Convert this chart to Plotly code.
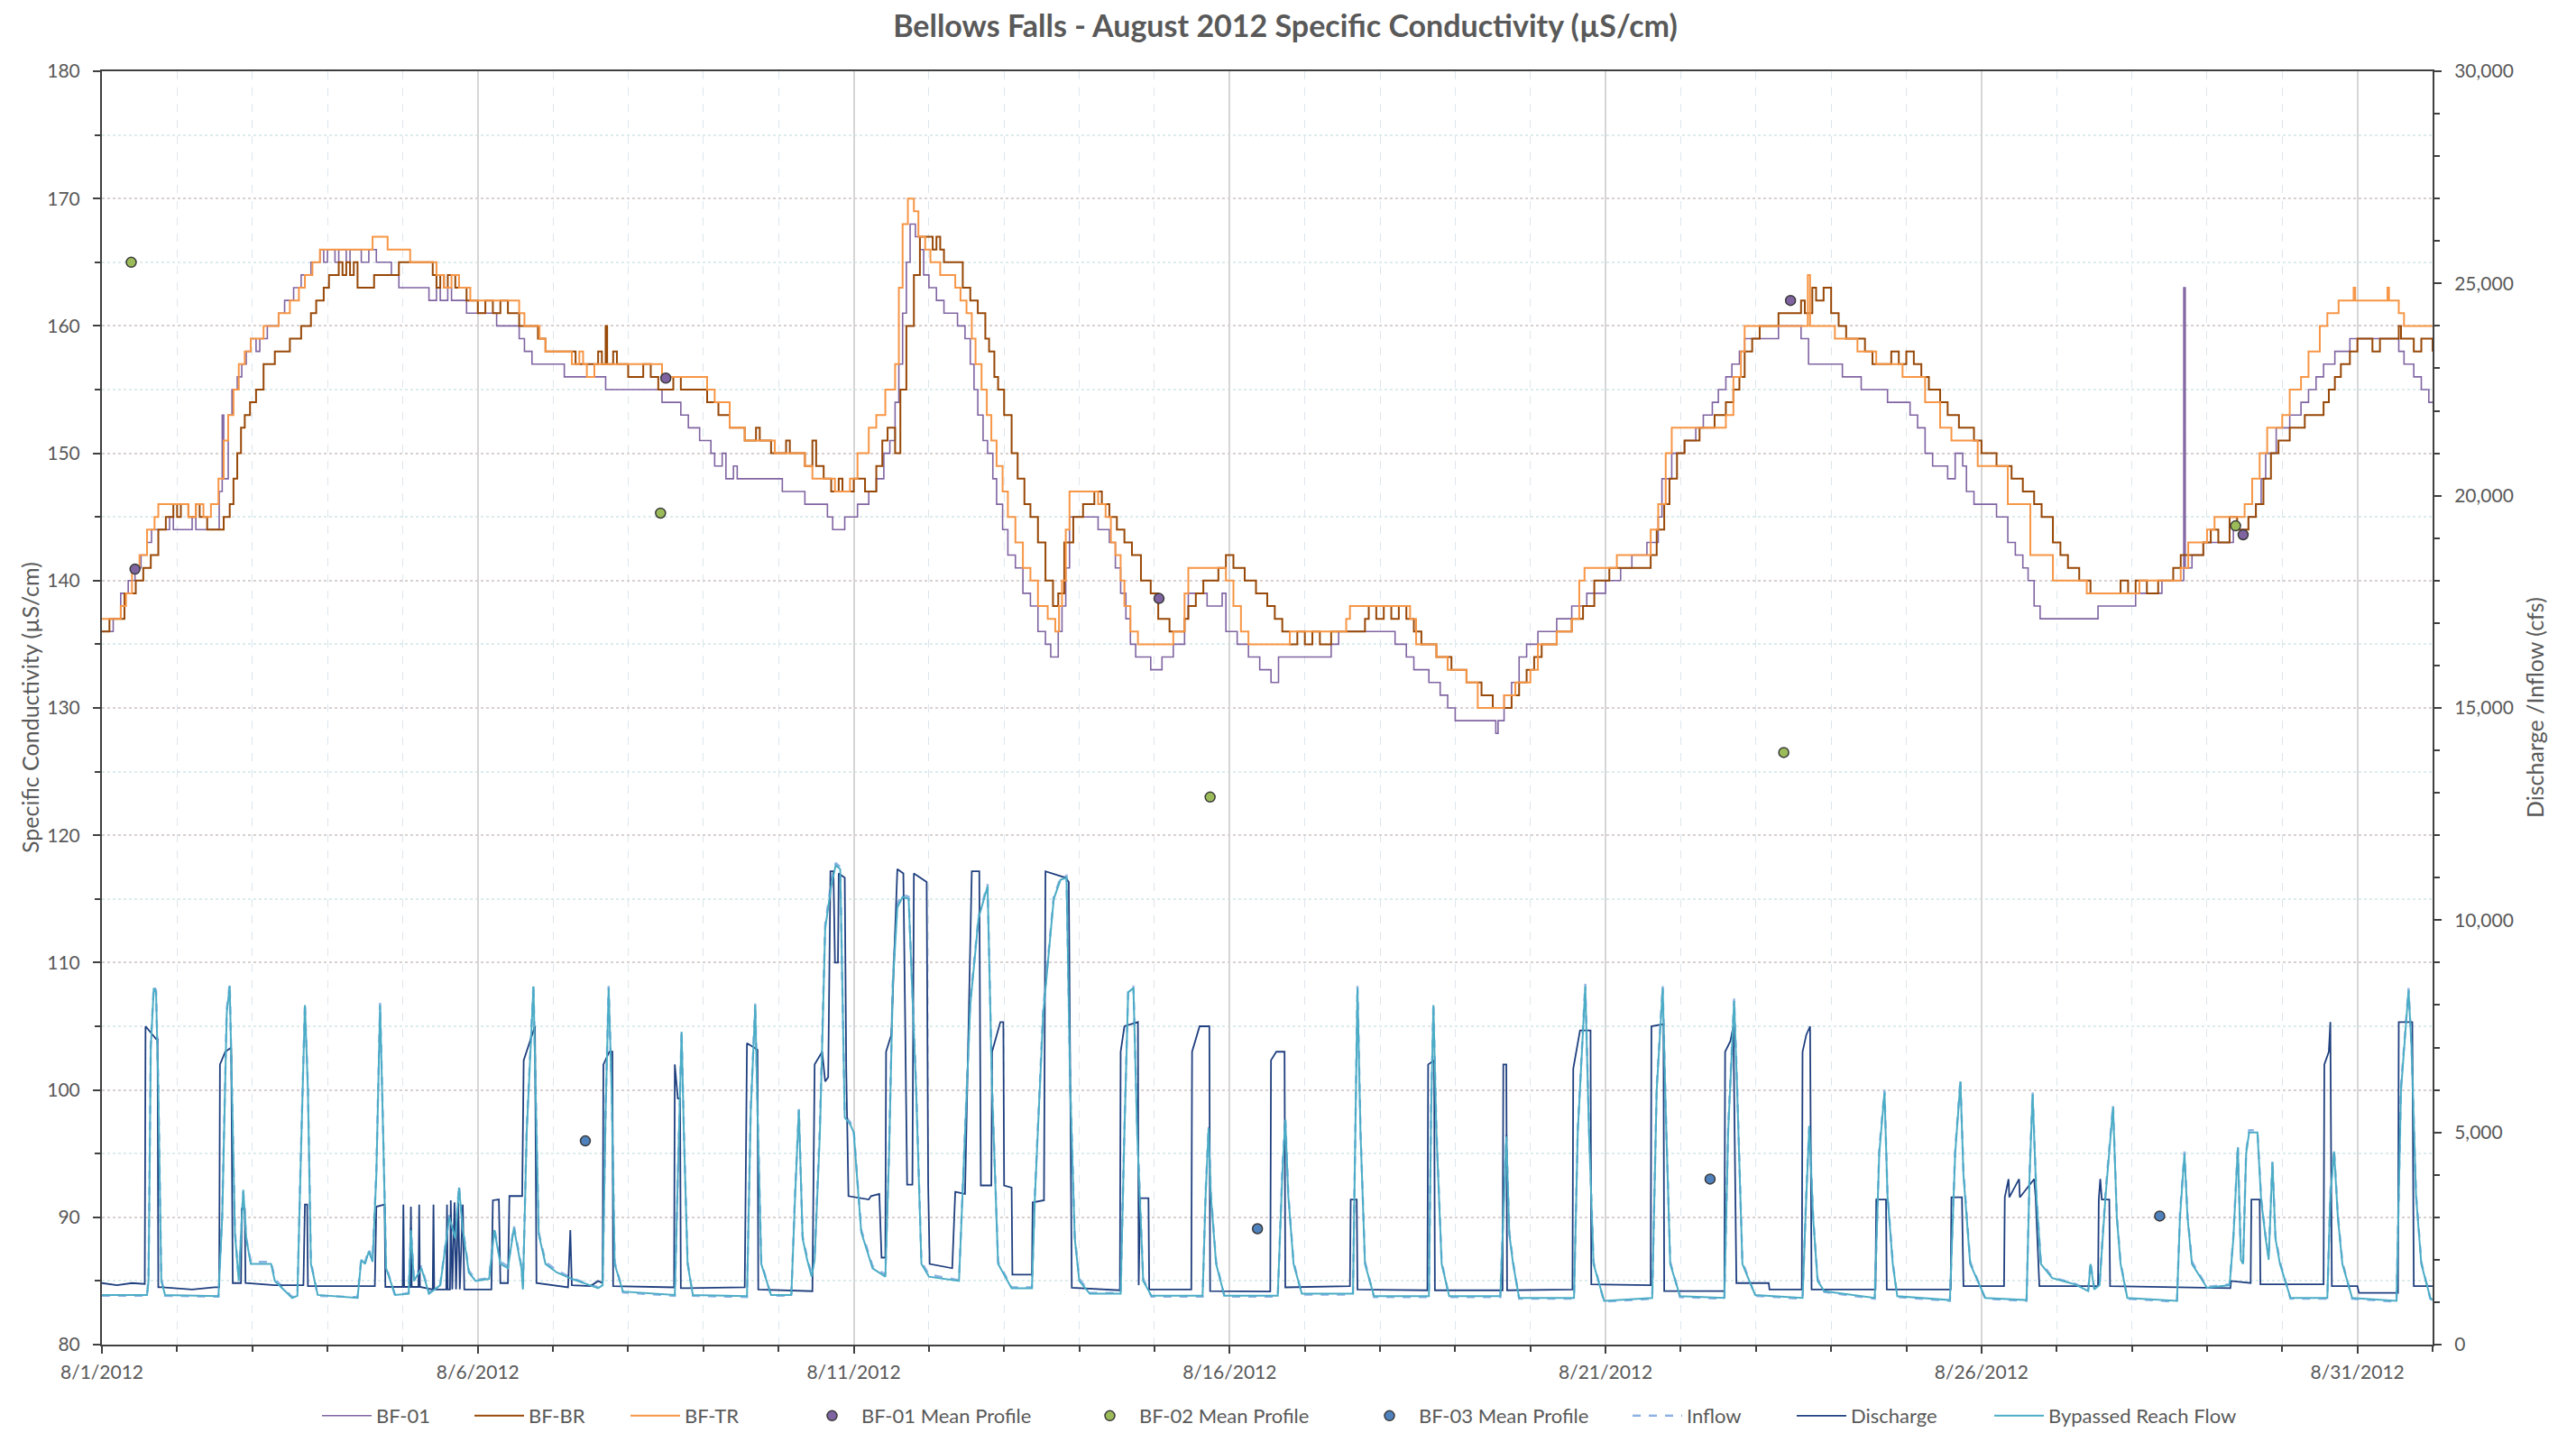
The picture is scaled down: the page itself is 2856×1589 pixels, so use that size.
import pandas as pd
import plotly.graph_objects as go

BASE = pd.Timestamp("2012-08-01")

# ---------------- Specific conductivity (uS/cm), day offsets from 8/1/2012 00:00 -------------
bf01_day = [0.00, 0.15, 0.25, 0.35, 0.44, 0.52, 0.60, 0.66, 0.90, 0.95, 1.20, 1.25, 1.56, 1.60, 1.62,
            1.68, 1.73, 1.80, 1.86, 1.92, 1.98, 2.05, 2.10, 2.20, 2.35, 2.43, 2.55, 2.65, 2.78, 2.90,
            2.95, 3.00, 3.10, 3.15, 3.25, 3.30, 3.45, 3.55, 3.65, 3.85, 3.95, 4.35, 4.45, 4.50, 4.60,
            4.65, 4.85, 5.25, 5.55, 5.62, 5.72, 6.15, 6.70, 7.45, 7.55, 7.70, 7.80, 7.95, 8.10, 8.15,
            8.25, 8.30, 8.40, 8.45, 8.60, 9.05, 9.35, 9.65, 9.72, 9.88, 10.05, 10.20, 10.30, 10.40,
            10.48, 10.55, 10.60, 10.65, 10.70, 10.75, 10.82, 10.88, 10.93, 11.00, 11.10, 11.20, 11.38,
            11.48, 11.55, 11.60, 11.65, 11.72, 11.78, 11.85, 11.90, 11.98, 12.05, 12.15, 12.25, 12.35,
            12.45, 12.55, 12.62, 12.72, 12.77, 12.82, 12.87, 13.25, 13.40, 13.48, 13.55, 13.62, 13.68,
            13.75, 13.95, 14.10, 14.25, 14.40, 14.45, 14.70, 14.90, 14.95, 15.10, 15.25, 15.40, 15.55,
            15.65, 16.35, 16.45, 17.20, 17.35, 17.45, 17.65, 17.80, 17.90, 18.00, 18.54, 18.57, 18.65,
            18.75, 18.85, 18.95, 19.10, 19.35, 19.55, 19.75, 20.00, 20.20, 20.35, 20.55, 20.70, 20.75,
            20.88, 21.05, 21.20, 21.30, 21.42, 21.50, 21.60, 21.68, 21.78, 21.85, 22.30, 22.60, 22.70,
            23.15, 23.40, 23.75, 24.05, 24.15, 24.25, 24.35, 24.55, 24.65, 24.75, 24.80, 24.90, 25.20,
            25.35, 25.45, 25.55, 25.62, 25.70, 25.78, 26.55, 27.05, 27.40, 27.69, 27.71, 27.80, 27.95,
            28.35, 28.55, 28.65, 28.72, 28.78, 28.92, 29.10, 29.25, 29.35, 29.45, 29.55, 29.70, 29.90,
            30.55, 30.62, 30.75, 30.85, 30.95, 31.00]
bf01_val = [136, 137, 139, 140, 141, 142, 143, 144, 145, 144, 145, 144, 147, 153, 148,
            153, 155, 156, 157, 158, 159, 158, 159, 160, 161, 162, 163, 164, 165, 166,
            165, 166, 165, 166, 165, 166, 165, 166, 165, 164, 163, 162, 163, 162, 163,
            162, 161, 160, 159, 158, 157, 156, 155, 154, 154, 153, 152, 151, 150, 149,
            150, 148, 149, 148, 148, 147, 146, 145, 144, 145, 146, 147, 148, 150,
            151, 154, 157, 161, 165, 168, 167, 166, 164, 163, 162, 161, 160,
            159, 157, 155, 153, 151, 150, 148, 146, 144, 142, 141, 139, 138,
            136, 135, 134, 136, 138, 141, 145, 144, 143, 141, 139, 137, 135,
            134, 133, 134, 135, 137, 139, 138, 139, 136, 135, 134, 133, 132,
            134, 135, 136, 135, 134, 133, 132, 131, 130, 129, 128, 129, 131,
            132, 134, 135, 136, 137, 138, 139, 140, 141, 142, 143, 145, 148,
            150, 151, 152, 153, 154, 155, 156, 157, 158, 159, 160, 159, 157,
            156, 155, 154, 153, 152, 150, 149, 148, 150, 149, 147, 146, 145,
            143, 142, 141, 140, 138, 137, 138, 139, 140, 163, 141, 142, 143,
            144, 145, 146, 148, 150, 152, 153, 154, 155, 156, 157, 158, 159,
            158, 157, 156, 155, 154, 154]

bfbr_day = [0.00, 0.10, 0.30, 0.45, 0.55, 0.65, 0.75, 0.85, 0.95, 1.00, 1.05, 1.15, 1.25, 1.30, 1.40,
            1.62, 1.70, 1.75, 1.80, 1.85, 1.90, 1.97, 2.05, 2.15, 2.30, 2.50, 2.65, 2.78, 2.85, 2.95,
            3.02, 3.15, 3.20, 3.25, 3.30, 3.35, 3.40, 3.62, 3.95, 4.40, 4.45, 4.50, 4.55, 4.60, 4.70,
            4.85, 5.00, 5.10, 5.20, 5.30, 5.40, 5.55, 5.80, 5.90, 6.30, 6.60, 6.65, 6.70, 6.72, 6.80,
            6.85, 7.00, 7.20, 7.30, 7.40, 7.60, 7.70, 8.05, 8.20, 8.35, 8.55, 8.70, 8.75, 8.90, 9.10,
            9.15, 9.35, 9.45, 9.50, 9.60, 9.70, 9.80, 9.85, 10.00, 10.15, 10.30, 10.38, 10.45, 10.55,
            10.62, 10.70, 10.80, 10.88, 11.05, 11.10, 11.15, 11.20, 11.45, 11.55, 11.65, 11.75, 11.80,
            11.87, 11.92, 12.00, 12.10, 12.18, 12.27, 12.35, 12.45, 12.55, 12.65, 12.72, 12.80, 12.92,
            13.05, 13.20, 13.30, 13.40, 13.50, 13.60, 13.70, 13.82, 13.95, 14.05, 14.20, 14.40, 14.45,
            14.55, 14.65, 14.85, 14.95, 15.05, 15.20, 15.35, 15.50, 15.60, 15.70, 15.80, 15.90, 16.00,
            16.10, 16.20, 16.35, 16.80, 16.85, 16.95, 17.05, 17.15, 17.25, 17.35, 17.45, 17.55, 17.75,
            17.95, 18.15, 18.35, 18.50, 18.75, 18.85, 18.95, 19.05, 19.15, 19.35, 19.55, 19.70, 19.85,
            20.05, 20.60, 20.68, 20.78, 20.85, 20.95, 21.05, 21.25, 21.45, 21.60, 21.70, 21.78, 21.85,
            21.95, 22.05, 22.30, 22.60, 22.65, 22.75, 22.80, 22.90, 23.00, 23.10, 23.20, 23.45, 23.55,
            23.80, 23.90, 24.00, 24.10, 24.20, 24.30, 24.45, 24.55, 24.70, 24.90, 25.00, 25.20, 25.40,
            25.55, 25.70, 25.80, 25.95, 26.05, 26.15, 26.30, 26.45, 26.85, 26.95, 27.05, 27.20, 27.35,
            27.55, 27.65, 27.95, 28.05, 28.15, 28.30, 28.40, 28.55, 28.65, 28.75, 28.85, 28.95, 29.10,
            29.30, 29.55, 29.62, 29.70, 29.78, 29.90, 30.00, 30.20, 30.30, 30.55, 30.58, 30.75, 30.85,
            31.00]
bfbr_val = [136, 137, 139, 140, 141, 142, 144, 145, 146, 145, 146, 145, 146, 145, 144,
            145, 146, 148, 150, 152, 153, 154, 155, 157, 158, 159, 160, 161, 162, 163,
            164, 165, 164, 165, 164, 165, 163, 164, 165, 164, 163, 164, 163, 164, 163,
            162, 161, 162, 161, 162, 161, 160, 159, 158, 157, 158, 157, 160, 157, 158,
            157, 156, 157, 156, 155, 156, 155, 154, 153, 152, 151, 152, 151, 150, 151,
            150, 149, 151, 149, 148, 147, 148, 147, 148, 147, 149, 151, 152, 150,
            155, 160, 164, 167, 166, 167, 166, 165, 163, 162, 161, 159, 158,
            156, 155, 153, 150, 148, 146, 145, 143, 140, 138, 139, 143, 145,
            146, 147, 146, 145, 144, 143, 142, 140, 139, 137, 136, 137, 138,
            139, 140, 141, 142, 141, 140, 139, 138, 137, 136, 135, 136, 135,
            136, 135, 136, 137, 138, 137, 138, 137, 138, 137, 136, 135, 134,
            133, 132, 131, 130, 131, 132, 133, 134, 135, 136, 137, 138, 140,
            141, 142, 144, 146, 148, 150, 151, 152, 153, 154, 155, 156, 158,
            159, 160, 161, 162, 161, 163, 162, 163, 161, 160, 159, 158, 157,
            158, 157, 158, 157, 156, 155, 154, 153, 152, 151, 150, 149, 148,
            147, 146, 145, 143, 142, 141, 140, 139, 140, 139, 140, 139, 140,
            141, 142, 143, 144, 143, 145, 144, 145, 146, 148, 150, 151, 152,
            153, 154, 155, 156, 157, 158, 159, 158, 159, 160, 159, 158, 159,
            158]

bftr_day = [0.00, 0.25, 0.32, 0.40, 0.50, 0.60, 0.70, 0.75, 1.15, 1.25, 1.35, 1.45, 1.55, 1.62, 1.68,
            1.75, 1.82, 1.90, 1.98, 2.15, 2.35, 2.50, 2.62, 2.70, 2.80, 2.90, 3.60, 3.80, 4.10, 4.45,
            4.55, 4.65, 4.75, 4.90, 5.55, 5.62, 5.82, 5.90, 6.25, 6.35, 6.40, 6.45, 6.55, 7.45, 8.05,
            8.15, 8.35, 8.55, 8.95, 9.35, 9.45, 9.75, 9.95, 10.05, 10.20, 10.30, 10.42, 10.55, 10.60,
            10.65, 10.72, 10.80, 10.86, 10.95, 11.02, 11.15, 11.35, 11.42, 11.50, 11.57, 11.62, 11.70,
            11.77, 11.83, 11.90, 11.98, 12.05, 12.15, 12.25, 12.35, 12.45, 12.58, 12.68, 12.73, 12.77,
            12.82, 12.87, 13.25, 13.35, 13.42, 13.48, 13.55, 13.60, 13.68, 13.78, 14.25, 14.40, 14.45,
            14.95, 15.05, 15.15, 15.25, 15.80, 16.55, 16.60, 17.40, 17.48, 17.75, 17.90, 18.15, 18.30,
            18.65, 18.80, 19.00, 19.10, 19.35, 19.55, 19.65, 19.72, 20.15, 20.60, 20.70, 20.80, 20.88,
            21.60, 21.70, 21.80, 21.85, 22.69, 22.72, 23.05, 23.35, 23.60, 23.95, 24.25, 24.45, 24.60,
            24.95, 25.35, 25.65, 25.95, 26.40, 27.10, 27.65, 27.75, 28.00, 28.10, 28.50, 28.60, 28.70,
            28.80, 29.00, 29.10, 29.25, 29.35, 29.50, 29.60, 29.75, 29.95, 29.97, 30.40, 30.42, 30.55,
            30.62, 31.00]
bftr_val = [137, 138, 139, 141, 142, 144, 145, 146, 145, 146, 145, 146, 148, 151, 153,
            155, 157, 158, 159, 160, 161, 162, 163, 164, 165, 166, 167, 166, 165, 164,
            163, 164, 163, 162, 161, 160, 159, 158, 157, 158, 157, 156, 157, 156, 155,
            154, 152, 151, 150, 149, 148, 147, 148, 150, 152, 153, 155, 157, 163,
            168, 170, 169, 167, 166, 165, 164, 163, 162, 161, 159, 157, 155,
            153, 151, 149, 147, 145, 143, 141, 140, 138, 137, 136, 138, 140,
            144, 147, 146, 145, 143, 142, 140, 138, 136, 135, 136, 139, 141,
            140, 138, 136, 135, 136, 137, 138, 137, 135, 134, 133, 132, 130,
            131, 132, 133, 135, 136, 137, 140, 141, 142, 144, 146, 150, 152,
            153, 156, 158, 160, 164, 160, 159, 158, 157, 156, 154, 152, 151,
            149, 146, 142, 140, 139, 140, 141, 143, 144, 145, 146, 148, 150,
            152, 153, 155, 156, 158, 160, 161, 162, 163, 162, 163, 162, 161,
            160, 160]

# ---------------- Mean profile points (uS/cm) ----------------
bf01_mean_day = [0.44, 7.50, 14.06, 22.46, 28.48]
bf01_mean_val = [140.9, 155.9, 138.6, 162.0, 143.6]
bf02_mean_day = [0.39, 7.43, 14.74, 22.37, 28.38]
bf02_mean_val = [165.0, 145.3, 123.0, 126.5, 144.3]
bf03_mean_day = [6.43, 15.37, 21.39, 27.37]
bf03_mean_val = [96.0, 89.1, 93.0, 90.1]

# ---------------- Flows (cfs) ----------------
dis_day = [0.00, 0.20, 0.40, 0.57, 0.58, 0.65, 0.72, 0.74, 0.75, 0.80, 1.20, 1.50, 1.56, 1.57, 1.64,
           1.72, 1.74, 1.85, 1.86, 1.90, 1.91, 2.30, 2.68, 2.70, 2.73, 2.74, 3.63, 3.65, 3.76, 3.77,
           4.00, 4.01, 4.02, 4.10, 4.11, 4.12, 4.21, 4.22, 4.23, 4.40, 4.41, 4.42, 4.58, 4.59, 4.60,
           4.63, 4.64, 4.66, 4.69, 4.71, 4.74, 4.76, 4.80, 4.82, 5.18, 5.20, 5.28, 5.30, 5.40, 5.42,
           5.59, 5.61, 5.72, 5.76, 5.78, 6.20, 6.23, 6.25, 6.50, 6.60, 6.66, 6.67, 6.75, 6.79, 6.80,
           7.61, 7.62, 7.66, 7.69, 7.70, 8.55, 8.58, 8.72, 8.73, 9.45, 9.48, 9.58, 9.62, 9.66, 9.69,
           9.73, 9.75, 9.79, 9.80, 9.88, 9.90, 9.93, 10.20, 10.23, 10.34, 10.37, 10.42, 10.43, 10.50,
           10.58, 10.66, 10.71, 10.78, 10.80, 10.97, 10.99, 11.01, 11.31, 11.35, 11.48, 11.53, 11.57,
           11.67, 11.69, 11.83, 11.84, 11.95, 11.99, 12.00, 12.10, 12.11, 12.37, 12.38, 12.53, 12.55,
           12.82, 12.86, 12.90, 13.54, 13.55, 13.60, 13.78, 13.79, 13.81, 13.92, 13.93, 14.49, 14.50,
           14.60, 14.73, 14.74, 15.54, 15.55, 15.62, 15.73, 15.74, 16.60, 16.61, 16.69, 16.70, 17.63,
           17.64, 17.72, 17.73, 18.63, 18.64, 18.68, 18.69, 19.56, 19.57, 19.66, 19.80, 19.81, 20.60,
           20.61, 20.77, 20.78, 21.58, 21.59, 21.66, 21.70, 21.74, 22.17, 22.18, 22.61, 22.62, 22.67,
           22.72, 22.74, 23.59, 23.60, 23.73, 23.74, 24.59, 24.60, 24.74, 24.76, 25.30, 25.31, 25.36,
           25.37, 25.50, 25.51, 25.70, 25.72, 25.77, 26.55, 26.56, 26.58, 26.60, 26.70, 26.71, 28.31,
           28.32, 28.58, 28.59, 28.70, 28.71, 29.55, 29.56, 29.62, 29.64, 29.66, 30.00, 30.02, 30.54,
           30.55, 30.73, 30.75, 31.00]
dis_cfs = [1450, 1400, 1450, 1430, 7500, 7350, 7200, 7200, 1350, 1350, 1300, 1350, 1350, 6600, 6900,
           7000, 1450, 1450, 3200, 3200, 1450, 1400, 1400, 3300, 3300, 1380, 1380, 3250, 3300, 1360,
           1360, 3300, 1360, 1360, 3250, 1360, 1360, 3300, 1360, 1300, 3300, 1300, 1300, 3300, 1300,
           1300, 3400, 1300, 3350, 1300, 3350, 1300, 3300, 1300, 1300, 3400, 3420, 1450, 1450, 3500,
           3500, 6700, 7300, 7500, 1450, 1350, 2700, 1400, 1380, 1500, 1450, 6600, 6900, 6900, 1380,
           1350, 6600, 5800, 5800, 1330, 1350, 7100, 6950, 1300, 1260, 6600, 6900, 6200, 6300, 11150,
           11150, 9000, 9000, 11100, 11000, 6500, 3500, 3420, 3500, 3550, 2050, 2050, 6900, 7300,
           11200, 11100, 3770, 3770, 11100, 10900, 3770, 1900, 1800, 3600, 3550, 7500, 11150,
           11150, 3750, 3750, 6900, 7600, 7600, 3750, 3700, 1650, 1650, 3350, 3400, 11150,
           11000, 10900, 1340, 1280, 6900, 7500, 7600, 1400, 3450, 3450, 1300, 1300, 6900,
           7500, 7500, 1260, 1250, 6700, 6900, 6900, 1350, 1380, 3420, 3420, 1300, 1280,
           6600, 6700, 1280, 1280, 6600, 6600, 1280, 1300, 6500, 7400, 7400, 1420, 1400,
           7500, 7550, 1260, 1260, 6900, 7150, 7500, 1450, 1450, 1300, 1300, 6900, 7300,
           7500, 1300, 1300, 3420, 3420, 1300, 1300, 3470, 3470, 1380, 1380, 3470, 3900,
           3470, 3900, 3470, 3900, 3470, 1380, 1380, 3420, 3900, 3420, 3420, 1380, 1330,
           1500, 1450, 3420, 3420, 1420, 1420, 6600, 6900, 7600, 1380, 1380, 1220, 1220,
           7600, 7600, 1380, 1380]

byp_day = [0.00, 0.60, 0.62, 0.65, 0.69, 0.72, 0.75, 0.79, 0.84, 1.55, 1.60, 1.66, 1.70, 1.73, 1.77,
           1.82, 1.88, 1.92, 1.98, 2.25, 2.30, 2.53, 2.60, 2.64, 2.70, 2.74, 2.78, 2.87, 3.40, 3.45,
           3.50, 3.55, 3.60, 3.65, 3.70, 3.74, 3.78, 3.90, 4.08, 4.11, 4.15, 4.25, 4.35, 4.50, 4.62,
           4.70, 4.75, 4.80, 4.88, 4.97, 5.15, 5.22, 5.30, 5.40, 5.48, 5.58, 5.60, 5.65, 5.74, 5.78,
           5.81, 5.90, 6.05, 6.25, 6.45, 6.60, 6.66, 6.70, 6.74, 6.78, 6.82, 6.93, 7.62, 7.66, 7.71,
           7.74, 7.79, 7.86, 8.58, 8.63, 8.69, 8.72, 8.77, 8.90, 9.17, 9.22, 9.27, 9.32, 9.38, 9.44,
           9.48, 9.55, 9.62, 9.70, 9.76, 9.82, 9.88, 9.95, 10.00, 10.05, 10.10, 10.25, 10.42, 10.47,
           10.52, 10.58, 10.65, 10.73, 10.83, 10.90, 11.00, 11.40, 11.46, 11.55, 11.66, 11.78, 11.84,
           11.92, 12.10, 12.37, 12.41, 12.52, 12.66, 12.75, 12.83, 12.88, 12.94, 13.00, 13.14, 13.55,
           13.60, 13.65, 13.72, 13.77, 13.85, 13.96, 14.64, 14.68, 14.72, 14.75, 14.82, 14.93, 15.64,
           15.70, 15.74, 15.78, 15.85, 15.96, 16.64, 16.67, 16.70, 16.74, 16.80, 16.92, 17.65, 17.68,
           17.71, 17.75, 17.82, 17.92, 18.60, 18.64, 18.68, 18.72, 18.77, 18.85, 19.58, 19.63, 19.73,
           19.78, 19.84, 19.98, 20.62, 20.68, 20.76, 20.80, 20.86, 20.99, 21.58, 21.63, 21.71, 21.75,
           21.82, 21.99, 22.62, 22.67, 22.71, 22.76, 22.82, 22.91, 23.58, 23.64, 23.71, 23.75, 23.82,
           23.88, 24.58, 24.65, 24.72, 24.76, 24.85, 25.05, 25.60, 25.64, 25.68, 25.73, 25.79, 25.94,
           26.25, 26.42, 26.45, 26.50, 26.57, 26.65, 26.72, 26.75, 26.80, 26.85, 26.94, 27.60, 27.64,
           27.70, 27.74, 27.80, 28.00, 28.30, 28.35, 28.41, 28.45, 28.48, 28.52, 28.56, 28.67, 28.72,
           28.78, 28.82, 28.87, 28.91, 28.97, 29.11, 29.60, 29.64, 29.69, 29.74, 29.80, 29.93, 30.52,
           30.58, 30.68, 30.72, 30.78, 30.85, 30.97, 31.00]
byp_cfs = [1170, 1170, 1500, 7000, 8400, 8300, 6000, 1500, 1170, 1140, 3000, 7800, 8450, 6000, 2600,
           1500, 3650, 2500, 1900, 1900, 1500, 1100, 1150, 4000, 8000, 6000, 1900, 1170, 1100, 2000,
           1900, 2200, 1950, 4000, 8000, 5000, 1800, 1170, 1200, 2700, 1500, 1800, 1200, 1400, 3000,
           2500, 3700, 2700, 1700, 1500, 1550, 2700, 1900, 1800, 2750, 1800, 1300, 5000, 8440, 5000,
           2600, 1900, 1700, 1550, 1420, 1330, 1400, 5500, 8400, 6000, 1900, 1250, 1170, 4000, 7370,
           5000, 1900, 1170, 1140, 5500, 8000, 5500, 1900, 1170, 1170, 3500, 5530, 2500, 2000, 1600,
           2000, 5000, 9800, 10800, 11300, 11200, 5350, 5200, 5000, 3800, 2650, 1800, 1600, 4500,
           8500, 10300, 10550, 10500, 6000, 1900, 1600, 1500, 4000, 8000, 10050, 10800, 6000,
           1900, 1330, 1330, 3500, 7800, 10500, 10950, 11000, 6000, 2500, 1500, 1200, 1200,
           5000, 8300, 8400, 5000, 1500, 1150, 1150, 3500, 5100, 3500, 1900, 1150, 1150,
           4000, 5300, 3500, 1900, 1200, 1200, 5000, 8400, 5000, 1900, 1140, 1140, 5500,
           8000, 5000, 1900, 1140, 1140, 3000, 4900, 2600, 1900, 1100, 1100, 5000, 8440,
           5000, 1900, 1030, 1100, 6000, 8400, 5500, 1900, 1140, 1100, 5000, 8100, 6000,
           1900, 1170, 1100, 3500, 5150, 3000, 1500, 1260, 1100, 4500, 5950, 3500, 1900,
           1140, 1050, 4500, 6200, 4000, 1900, 1100, 1050, 4000, 5900, 3500, 1900, 1570,
           1415, 1260, 1900, 1300, 1400, 3500, 5000, 5600, 3000, 1900, 1100, 1030, 3000,
           4500, 3000, 1900, 1340, 1400, 2500, 4640, 2000, 1900, 4500, 5000, 5000, 3400,
           2500, 2000, 4300, 2500, 1900, 1100, 1100, 3500, 4550, 3000, 1900, 1100, 1030,
           6000, 8350, 7000, 3500, 1900, 1100, 1050]

# Inflow (dashed) read on the same time stamps as the bypassed reach flow; it overlaps it closely
inflow_cfs = [1150, 1150, 1600, 7100, 8450, 8350, 6100, 1550, 1150, 1130, 3100, 7900, 8500, 6100, 2650,
              1550, 3600, 2500, 1950, 1950, 1550, 1120, 1150, 4100, 8050, 6100, 1950, 1150, 1120, 2050,
              1950, 2250, 2000, 4100, 8050, 5100, 1850, 1150, 1220, 2750, 1550, 1850, 1220, 1420, 3050,
              2550, 3750, 2750, 1750, 1520, 1570, 2750, 1950, 1850, 2800, 1850, 1320, 5100, 8500, 5100,
              2650, 1950, 1750, 1570, 1440, 1350, 1420, 5600, 8450, 6100, 1950, 1230, 1150, 4100, 7400,
              5100, 1950, 1150, 1120, 5600, 8050, 5600, 1950, 1150, 1150, 3600, 5550, 2550, 2050, 1650,
              2100, 5200, 9900, 10900, 11350, 11250, 5400, 5250, 5050, 3850, 2700, 1850, 1650, 4600,
              8600, 10400, 10600, 10550, 6100, 1950, 1650, 1520, 4100, 8100, 10100, 10850, 6100,
              1950, 1350, 1350, 3600, 7900, 10550, 11000, 11050, 6100, 2550, 1550, 1220, 1220,
              5100, 8350, 8450, 5100, 1550, 1130, 1130, 3600, 5150, 3550, 1950, 1130, 1130,
              4100, 5350, 3550, 1950, 1180, 1180, 5100, 8450, 5100, 1950, 1120, 1120, 5600,
              8050, 5100, 1950, 1120, 1120, 3100, 4950, 2650, 1950, 1080, 1080, 5100, 8500,
              5100, 1950, 1010, 1080, 6100, 8450, 5600, 1950, 1120, 1080, 5100, 8150, 6100,
              1950, 1150, 1080, 3600, 5200, 3050, 1550, 1240, 1080, 4600, 6000, 3550, 1950,
              1120, 1030, 4600, 6250, 4100, 1950, 1080, 1030, 4100, 5950, 3550, 1950, 1590,
              1430, 1280, 1950, 1320, 1420, 3600, 5100, 5650, 3050, 1950, 1080, 1010, 3100,
              4550, 3050, 1950, 1360, 1420, 2550, 4700, 2050, 1950, 4550, 5050, 5050, 3450,
              2550, 2050, 4350, 2550, 1950, 1080, 1080, 3600, 4600, 3050, 1950, 1080, 1010,
              6100, 8400, 7050, 3550, 1950, 1080, 1030]

x_tick_labels_format = "%-m/%-d/%Y"


def to_dt(days):
    return [BASE + pd.Timedelta(days=d) for d in days]


TXT = "#595959"
FONT = "Lato"

# The page body has an 8 px default margin, so the figure is placed 8 px right/down.
OFF = 8
FIG_W, FIG_H = 2856 - OFF, 1589 - OFF
# plot area in page pixels (layout only)
PL, PR, PT, PB = 113, 2697, 79, 1491
PW = PR - PL
PH = PB - PT

# left edge (page px) of each legend entry, matching the reference legend layout
legend_left_px = [352, 521, 694, 890, 1198, 1508, 1805, 1987, 2206]

fig = go.Figure()

fig.add_trace(go.Scatter(x=to_dt(bf01_day), y=bf01_val, name="BF-01", mode="lines", legend="legend",
                         line=dict(color="#8064A2", width=1.6, shape="hv")))
fig.add_trace(go.Scatter(x=to_dt(bfbr_day), y=bfbr_val, name="BF-BR", mode="lines", legend="legend2",
                         line=dict(color="#984807", width=2, shape="hv")))
fig.add_trace(go.Scatter(x=to_dt(bftr_day), y=bftr_val, name="BF-TR", mode="lines", legend="legend3",
                         line=dict(color="#F79646", width=2, shape="hv")))

mk_line = dict(color="#3A3A3A", width=1.5)
fig.add_trace(go.Scatter(x=to_dt(bf01_mean_day), y=bf01_mean_val, name="BF-01 Mean Profile",
                         legend="legend4",
                         mode="markers", marker=dict(color="#8064A2", size=11, line=mk_line)))
fig.add_trace(go.Scatter(x=to_dt(bf02_mean_day), y=bf02_mean_val, name="BF-02 Mean Profile",
                         legend="legend5",
                         mode="markers", marker=dict(color="#9BBB59", size=11, line=mk_line)))
fig.add_trace(go.Scatter(x=to_dt(bf03_mean_day), y=bf03_mean_val, name="BF-03 Mean Profile",
                         legend="legend6",
                         mode="markers", marker=dict(color="#4F81BD", size=11, line=mk_line)))

fig.add_trace(go.Scatter(x=to_dt(byp_day), y=inflow_cfs, name="Inflow", mode="lines", yaxis="y2",
                         legend="legend7",
                         line=dict(color="#8DB3E2", width=2.4, dash="dash")))
fig.add_trace(go.Scatter(x=to_dt(dis_day), y=dis_cfs, name="Discharge", mode="lines", yaxis="y2",
                         legend="legend8",
                         line=dict(color="#1F3F7F", width=1.8)))
fig.add_trace(go.Scatter(x=to_dt(byp_day), y=byp_cfs, name="Bypassed Reach Flow", mode="lines",
                         yaxis="y2", legend="legend9", line=dict(color="#4BACC6", width=2)))

tick_font = dict(family=FONT, size=21, color=TXT)
legend_y = -(1570 - PB) / PH

legends = {}
for i, left in enumerate(legend_left_px):
    key = "legend" if i == 0 else f"legend{i + 1}"
    legends[key] = dict(orientation="h", x=(left - PL) / PW, xanchor="left",
                        y=legend_y, yanchor="middle", itemwidth=55,
                        font=dict(family=FONT, size=22, color=TXT),
                        bgcolor="rgba(0,0,0,0)", borderwidth=0)

fig.update_layout(
    width=FIG_W, height=FIG_H, autosize=False,
    margin=dict(l=PL - OFF, r=2856 - PR, t=PT - OFF, b=1589 - PB, pad=0, autoexpand=False),
    paper_bgcolor="white", plot_bgcolor="white",
    font=dict(family=FONT, size=21, color=TXT),
    title=dict(text="<b>Bellows Falls - August 2012 Specific Conductivity (µS/cm)</b>",
               x=(1425 - OFF) / FIG_W, xanchor="center", y=1 - (29 - OFF) / FIG_H, yanchor="middle",
               font=dict(family=FONT, size=34, color=TXT)),
    showlegend=True,
    xaxis=dict(
        type="date", automargin=False,
        range=[BASE, BASE + pd.Timedelta(days=31)],
        tick0=BASE, dtick=5 * 86400000, tickformat=x_tick_labels_format,
        ticks="outside", ticklen=8, tickwidth=1.5, tickcolor="#404040",
        showline=True, linecolor="#404040", linewidth=2, mirror=True,
        showgrid=True, gridcolor="#D6D6D6", gridwidth=1.5,
        tickfont=tick_font, ticklabelstandoff=3,
        minor=dict(dtick=86400000, tick0=BASE, ticks="outside", ticklen=6, tickwidth=1.5,
                   tickcolor="#404040", showgrid=True, gridcolor="#DDE6EC", griddash="dash",
                   gridwidth=1),
        zeroline=False,
    ),
    yaxis=dict(
        automargin=False,
        range=[80, 180], dtick=10, tick0=80,
        ticks="outside", ticklen=8, tickwidth=1.5, tickcolor="#404040",
        showline=True, linecolor="#404040", linewidth=2,
        showgrid=True, gridcolor="#D9D0D0", gridwidth=1.5, griddash="dot",
        tickfont=tick_font, ticklabelstandoff=10,
        minor=dict(dtick=5, tick0=80, ticks="outside", ticklen=6, tickwidth=1.5,
                   tickcolor="#404040", showgrid=True, gridcolor="#DCECEC", griddash="dot",
                   gridwidth=1.5),
        zeroline=False,
    ),
    yaxis2=dict(
        automargin=False,
        overlaying="y", side="right", range=[0, 30000], dtick=5000, tick0=0,
        tickformat=",", ticks="outside", ticklen=8, tickwidth=1.5, tickcolor="#404040",
        showline=True, linecolor="#404040", linewidth=2,
        showgrid=False, zeroline=False,
        tickfont=tick_font, ticklabelstandoff=10,
        minor=dict(dtick=1000, tick0=0, ticks="outside", ticklen=6, tickwidth=1.5,
                   tickcolor="#404040", showgrid=False),
    ),
    annotations=[
        dict(text="Specific Conductivity (µS/cm)", xref="paper", yref="paper",
             x=(33 - PL) / PW, y=0.5, xanchor="center", yanchor="middle",
             textangle=-90, showarrow=False, font=dict(family=FONT, size=25, color=TXT)),
        dict(text="Discharge /Inflow (cfs)", xref="paper", yref="paper",
             x=(2810 - PL) / PW, y=0.5, xanchor="center", yanchor="middle",
             textangle=-90, showarrow=False, font=dict(family=FONT, size=25, color=TXT)),
    ],
    **legends,
)

fig.write_html("out.html")
